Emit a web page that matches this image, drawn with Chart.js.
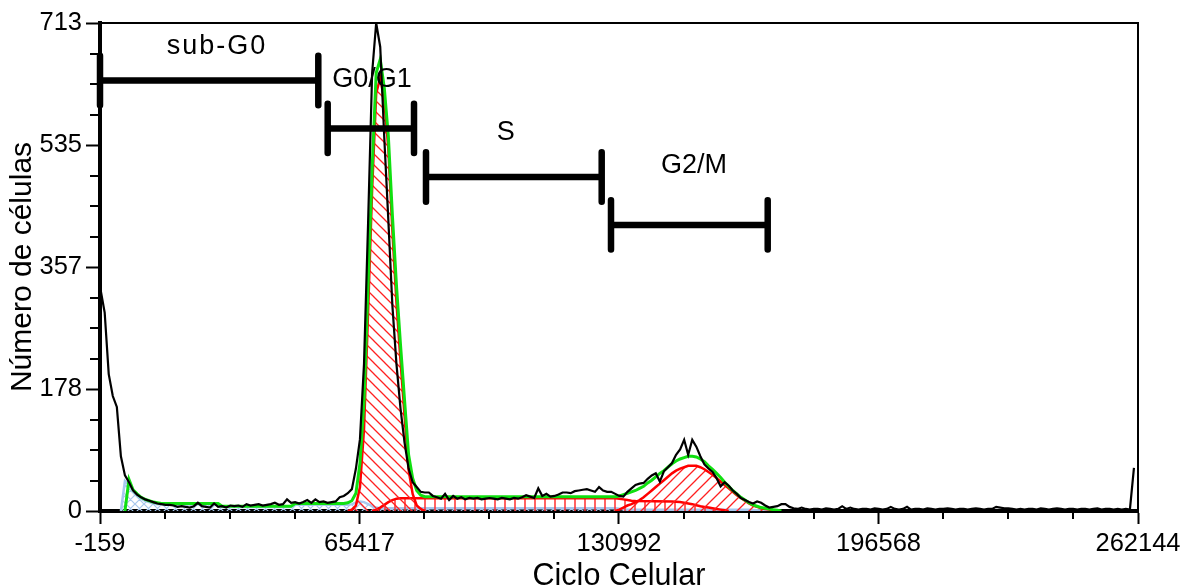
<!DOCTYPE html>
<html>
<head>
<meta charset="utf-8">
<script src="https://cdn.jsdelivr.net/npm/chart.js@4.4.0/dist/chart.umd.min.js"></script>
<style>
  html, body { margin: 0; padding: 0; background: #fff; }
</style>
</head>
<body>
<canvas id="myChart" width="1180" height="588"></canvas>
<script>
// one histogram channel = 1024 units of "Ciclo Celular"
const CHANNEL = 1024;

const xTicks = [-159, 65417, 130992, 196568, 262144];
const xTickLabels = ['-159', '65417', '130992', '196568', '262144'];
const yTicks = [0, 178.25, 356.5, 534.75, 713];
const yTickLabels = ['0', '178', '357', '535', '713'];

// raw histogram, channels 0..255
const counts = [
  323, 290, 200, 168, 152, 80, 52, 42, 30, 24, 20, 17, 15, 13, 11, 10, 9, 9, 8,
  6, 7, 6, 5, 7, 12, 7, 6, 5, 11, 6, 7, 5, 8, 7, 8, 6, 10, 8, 9, 10, 8, 9, 10, 12, 9, 10, 17, 12, 13, 11, 13, 16, 12, 17, 13, 14, 12, 13, 14, 20, 22, 26, 32,
  62, 105, 215, 420, 640, 713, 678, 545, 425, 300, 215, 150, 100, 62, 42, 35, 28, 27,
  27, 22, 20, 18, 25, 16, 22, 18, 20, 17, 19, 18, 19, 17, 18, 19, 18, 17, 19, 18, 17, 19, 18, 20, 23, 21, 19, 33, 22, 25, 21,
  22, 24, 27, 27, 26, 29, 30, 31, 32, 30, 28, 35, 30, 28, 28, 25, 22, 21, 28, 33,
  38, 40, 41, 47, 52, 55, 43, 58, 64, 70, 82, 90, 104, 82, 104, 94, 80, 68, 62, 57,
  48, 36, 42, 37, 30, 25, 19, 16, 13, 11, 14, 12, 8, 5, 6, 7, 10, 10, 6,
  4, 3, 5, 3, 2, 3, 3, 2, 4, 3, 2, 3, 7, 3, 5, 3, 2, 3, 3, 2,
  4, 3, 2, 3, 6, 3, 2, 3, 6, 2, 3, 3, 2, 4, 3, 2, 3, 3, 4, 3,
  2, 3, 3, 2, 3, 4, 3, 2, 3, 3, 6, 5, 4, 4, 3, 2, 3, 2, 3, 3,
  2, 4, 3, 2, 3, 4, 3, 2, 3, 3, 2, 3, 3, 2, 3, 4, 2, 3, 3, 2,
  3, 2, 3, 2, 63
];

// model components (channel, value) vertices
const fitCh = [6, 7, 8, 9, 10, 11, 12, 13, 14, 15, 29, 30, 47, 48, 60, 61, 62, 63, 64, 65, 66, 67, 68, 69, 70,
  71, 72, 73, 74, 75, 76, 77, 78, 79, 80, 127, 128, 129, 130, 131, 132, 133, 134, 135, 136, 137, 138, 139, 140,
  141, 142, 143, 144, 145, 146, 147, 148, 149, 150, 151, 152, 153, 154, 155, 156, 157, 158, 159, 160, 161, 162,
  163, 164, 165, 166, 167, 168];
const fitVal = [0, 46, 31, 25, 20, 17, 15, 13, 12, 11, 11, 7, 7, 11, 11, 12, 15, 26, 70, 160, 330, 500, 640, 660, 618,
  548, 432, 330, 243, 162, 82, 48, 30, 23, 21, 21, 22, 24, 26, 28, 30, 33, 36, 41, 45, 50, 55, 59, 64,
  69, 73, 76, 78, 80, 80, 79, 76, 72, 66, 61, 55, 49, 42, 36, 30, 25, 20, 16, 12, 9, 7,
  5, 4, 3, 2, 1, 0];

const debrisCh = [5, 6, 7, 8, 9, 10, 11, 12, 13, 14, 29, 30, 47, 48, 61, 62, 63, 64, 65, 66, 67, 68, 69, 127, 130, 160, 165];
const debrisVal = [0, 44, 38, 29, 23, 18, 15, 13, 11, 10, 10, 6, 6, 9, 9, 10, 12, 14, 13, 10, 7, 5, 4, 4, 2, 2, 0];

const g1Ch = [61, 62, 63, 64, 65, 66, 67, 68, 69, 70, 71, 72, 73, 74, 75, 76, 77, 78, 79, 80];
const g1Val = [0, 2, 8, 35, 120, 290, 470, 610, 633, 600, 530, 410, 305, 220, 140, 60, 25, 8, 3, 0];

const sCh = [67, 68, 69, 70, 71, 72, 73, 74, 127, 128, 129, 130, 131, 132, 141, 142, 143, 144, 145, 146, 147, 148, 149, 150, 151, 152, 153, 154, 155];
const sVal = [0, 2, 5, 9, 13, 16, 18, 18.5, 18.5, 18, 17, 16, 15, 14.5, 14, 13.5, 13, 12, 11, 10, 8.5, 7, 6, 5, 4, 3, 2, 1, 0];

const g2Ch = [127, 128, 129, 130, 131, 132, 133, 134, 135, 136, 137, 138, 139, 140, 141, 142, 143, 144, 145, 146, 147,
  148, 149, 150, 151, 152, 153, 154, 155, 156, 157, 158, 159, 160, 161, 162, 163, 164, 165, 166, 167];
const g2Val = [0, 2, 5, 8, 10, 13, 16, 20, 25, 30, 35, 40, 45, 50, 55, 59, 62, 64, 66, 66, 66,
  64, 61, 57, 53, 48, 43, 38, 33, 28, 23, 19, 15, 11, 8, 6, 4, 3, 2, 1, 0];

// gate markers
const gateNames = ['sub-G0', 'G0/G1', 'S', 'G2/M'];
const gateFrom = [-159, 57380, 82220, 128970];
const gateTo = [55005, 79190, 126620, 168570];
const gateLevel = [629, 559, 488, 418];
const gateLabelX = [29400, 68575, 102360, 149950];
const gateLabelY = [678, 630, 553, 504];
const CAP = 36;

const FONT = "'Liberation Sans', Arial, sans-serif";

function toPoints(chs, vals) {
  return chs.map((c, i) => ({ x: c * CHANNEL, y: vals[i] }));
}

const gatePoints = [];
gateFrom.forEach((x1, i) => {
  const x2 = gateTo[i], y = gateLevel[i];
  gatePoints.push({ x: x1, y: y - CAP }, { x: x1, y: y + CAP }, { x: x1, y: null });
  gatePoints.push({ x: x1, y: y }, { x: x2, y: y }, { x: x2, y: null });
  gatePoints.push({ x: x2, y: y - CAP }, { x: x2, y: y + CAP }, { x: x2, y: null });
});

const ctx = document.getElementById('myChart').getContext('2d');

function hatch(color, kind, size, width) {
  const c = document.createElement('canvas');
  c.width = size; c.height = size;
  const g = c.getContext('2d');
  g.strokeStyle = color;
  g.lineWidth = width;
  g.beginPath();
  if (kind === '\\' || kind === 'x') {
    g.moveTo(-1, -1); g.lineTo(size + 1, size + 1);
    g.moveTo(-1, size - 1); g.lineTo(1, size + 1);
    g.moveTo(size - 1, -1); g.lineTo(size + 1, 1);
  }
  if (kind === '/' || kind === 'x') {
    g.moveTo(-1, size + 1); g.lineTo(size + 1, -1);
    g.moveTo(-1, 1); g.lineTo(1, -1);
    g.moveTo(size - 1, size + 1); g.lineTo(size + 1, size - 1);
  }
  if (kind === '|') {
    g.moveTo(size / 2, 0); g.lineTo(size / 2, size);
  }
  g.stroke();
  return ctx.createPattern(c, 'repeat');
}

const axisExtras = {
  id: 'axisExtras',
  afterDraw(chart) {
    const { ctx, chartArea: a, scales: { x, y } } = chart;
    ctx.save();
    ctx.strokeStyle = '#000';
    ctx.lineWidth = 2;
    ctx.beginPath();
    for (let i = 0; i < xTicks.length - 1; i++) {
      const step = (xTicks[i + 1] - xTicks[i]) / 4;
      for (let k = 1; k < 4; k++) {
        const px = Math.round(x.getPixelForValue(xTicks[i] + k * step));
        ctx.moveTo(px, a.bottom); ctx.lineTo(px, a.bottom + 8);
      }
    }
    for (let i = 0; i < yTicks.length - 1; i++) {
      const step = (yTicks[i + 1] - yTicks[i]) / 4;
      for (let k = 1; k < 4; k++) {
        const py = Math.round(y.getPixelForValue(yTicks[i] + k * step));
        ctx.moveTo(a.left, py); ctx.lineTo(a.left - 10, py);
      }
    }
    ctx.stroke();

    // frame
    ctx.lineWidth = 2;
    ctx.beginPath();
    ctx.moveTo(a.left, a.top); ctx.lineTo(a.right, a.top); ctx.lineTo(a.right, a.bottom);
    ctx.stroke();

    // gate names
    ctx.fillStyle = '#000';
    ctx.textAlign = 'center';
    ctx.textBaseline = 'middle';
    ctx.font = '27px ' + FONT;
    gateNames.forEach((name, i) => {
      ctx.letterSpacing = i === 0 ? '2px' : '0px';
      ctx.fillText(name, x.getPixelForValue(gateLabelX[i]), y.getPixelForValue(gateLabelY[i]));
    });
    ctx.restore();
  }
};

new Chart(ctx, {
  type: 'line',
  data: {
    datasets: [
      {
        label: 'gates', data: gatePoints, order: -1,
        borderColor: '#000', borderWidth: 6.5, borderCapStyle: 'round',
        pointRadius: 0, fill: false, clip: false, spanGaps: false
      },
      {
        label: 'counts', data: counts.map((v, i) => ({ x: i * CHANNEL, y: v })), order: 0,
        borderColor: '#000', borderWidth: 2.2, pointRadius: 0, fill: false
      },
      {
        label: 'fit', data: toPoints(fitCh, fitVal), order: 1,
        borderColor: '#10e010', borderWidth: 3, pointRadius: 0, fill: false
      },
      {
        label: 'G0/G1', data: toPoints(g1Ch, g1Val), order: 2,
        borderColor: '#ff0000', borderWidth: 2.5, pointRadius: 0,
        fill: 'origin', backgroundColor: hatch('#ff2020', '\\', 11, 1.3)
      },
      {
        label: 'G2/M', data: toPoints(g2Ch, g2Val), order: 2,
        borderColor: '#ff0000', borderWidth: 2.5, pointRadius: 0,
        fill: 'origin', backgroundColor: hatch('#ff2020', '/', 12, 1.3)
      },
      {
        label: 'S', data: toPoints(sCh, sVal), order: 3,
        borderColor: '#ff0000', borderWidth: 2.5, pointRadius: 0,
        fill: 'origin', backgroundColor: hatch('#ff3030', '|', 10, 1.5)
      },
      {
        label: 'debris', data: toPoints(debrisCh, debrisVal), order: 4,
        borderColor: '#a8c8ee', borderWidth: 2.5, pointRadius: 0,
        fill: 'origin', backgroundColor: hatch('#a8c8ee', 'x', 9, 1.2)
      }
    ]
  },
  options: {
    responsive: false,
    animation: false,
    events: [],
    layout: { padding: { left: 0, right: 42, top: 23, bottom: 0 } },
    elements: { line: { tension: 0 } },
    plugins: { legend: { display: false }, tooltip: { enabled: false } },
    scales: {
      x: {
        type: 'linear', min: -159, max: 262144,
        afterBuildTicks: s => { s.ticks = xTicks.map(v => ({ value: v })); },
        afterFit: s => { s.height = 77; s.paddingLeft = 0; s.paddingRight = 0; },
        ticks: {
          autoSkip: false, maxRotation: 0, padding: 5, color: '#000',
          font: { family: FONT, size: 25.5 },
          callback: (v, i) => xTickLabels[i]
        },
        grid: { drawOnChartArea: false, drawTicks: true, tickLength: 13, tickWidth: 2, tickColor: '#000' },
        border: { display: true, color: '#000', width: 4 },
        title: {
          display: true, text: 'Ciclo Celular', color: '#000',
          font: { family: FONT, size: 30.5 }, padding: { top: 0, bottom: -7 }
        }
      },
      y: {
        type: 'linear', min: 0, max: 713,
        afterBuildTicks: s => { s.ticks = yTicks.map(v => ({ value: v })); },
        afterFit: s => { s.width = 100; s.paddingTop = 0; s.paddingBottom = 0; },
        ticks: {
          autoSkip: false, padding: 4, color: '#000',
          font: { family: FONT, size: 25.5 },
          callback: (v, i) => yTickLabels[i]
        },
        grid: { drawOnChartArea: false, drawTicks: true, tickLength: 14, tickWidth: 2, tickColor: '#000' },
        border: { display: true, color: '#000', width: 4 },
        title: {
          display: true, text: 'Número de células', color: '#000',
          font: { family: FONT, size: 30 }, padding: { top: 5, bottom: 0 }
        }
      }
    }
  },
  plugins: [axisExtras]
});
</script>
</body>
</html>
